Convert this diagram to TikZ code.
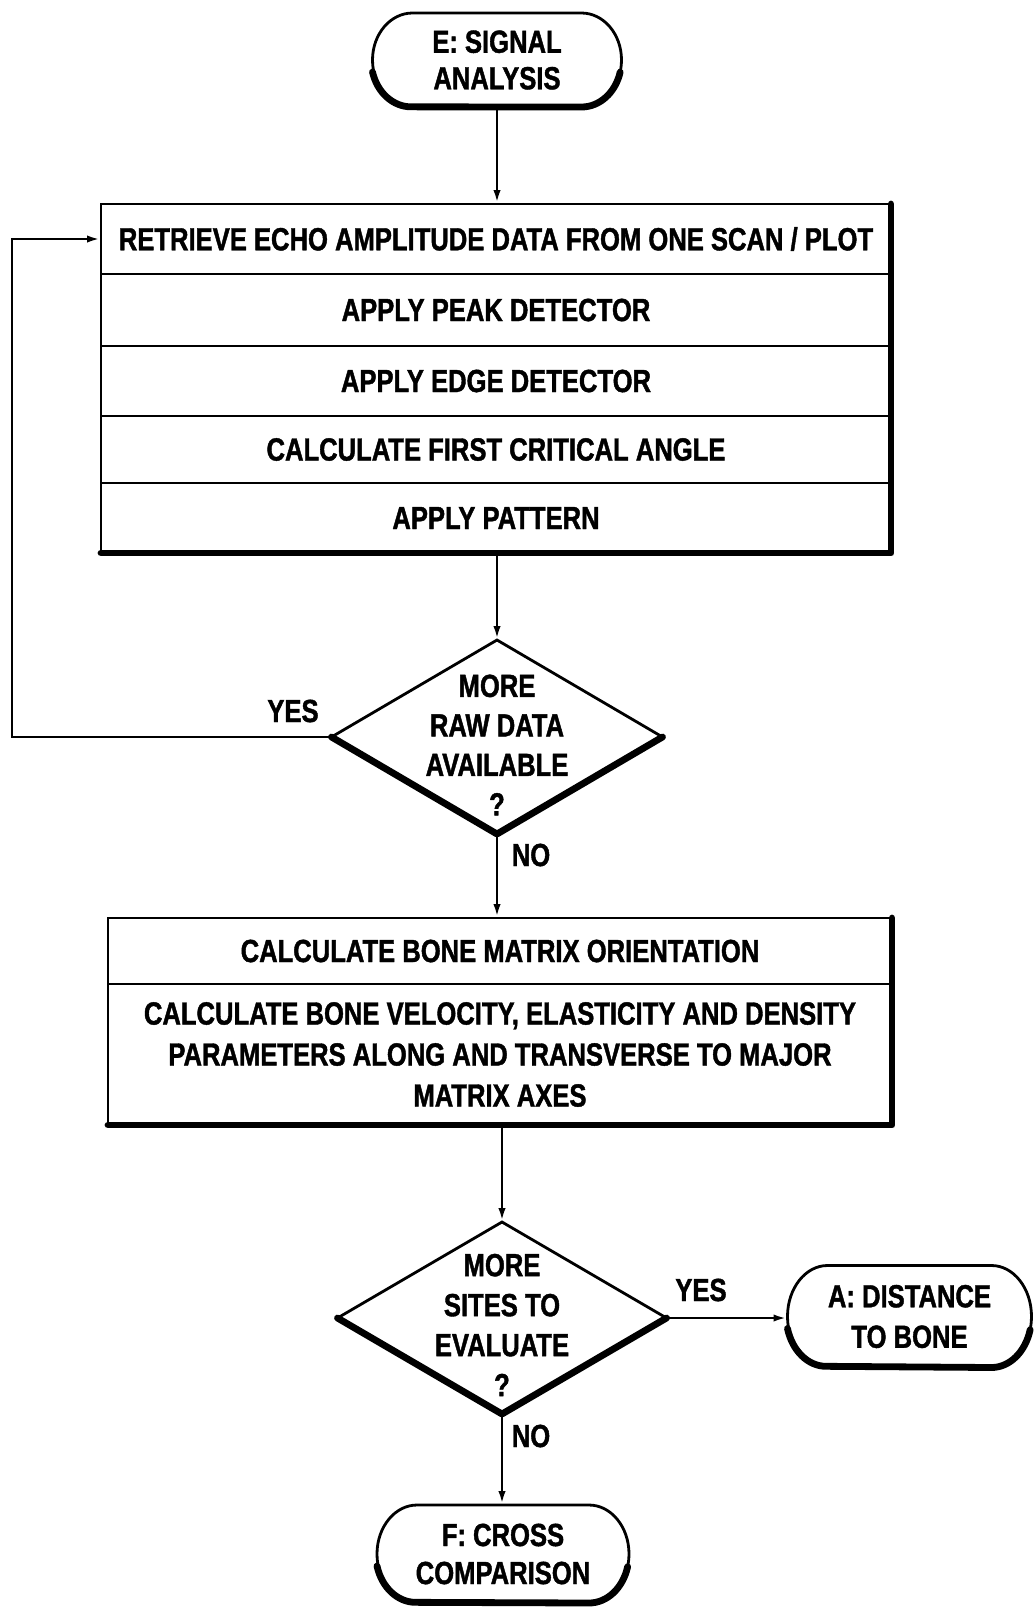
\documentclass[tikz,border=0pt]{standalone}
\usepackage{fontspec}
\setmainfont{Liberation Sans}[FakeStretch=0.80, BoldFeatures={FakeBold=1.3}]
\usetikzlibrary{shapes.geometric,arrows.meta}
\newcommand{\fs}[1]{\bfseries\fontsize{16}{#1}\selectfont}
% outline of a terminal: #1 node name, #2 half height
\newcommand{\termoutline}[2]{%
  \draw[ln] ([xshift=20pt]#1.north west) -- ([xshift=-20pt]#1.north east)
    arc[start angle=90, end angle=-90, x radius=20pt, y radius=#2]
    -- ([xshift=20pt]#1.south west)
    arc[start angle=270, end angle=90, x radius=20pt, y radius=#2] -- cycle;
  \draw[heavy] ([yshift=-6pt]#1.west)
    arc[start angle=195, end angle=270, x radius=20pt, y radius=#2]
    -- ([xshift=-20pt]#1.south east)
    arc[start angle=270, end angle=345, x radius=20pt, y radius=#2];}
\begin{document}
\begin{tikzpicture}[x=0.5pt,y=-0.5pt,
  every node/.style={font=\fs{19.5}, align=center, inner sep=0pt, outer sep=0pt},
  ln/.style={line width=1.4pt},
  heavy/.style={line width=3.4pt, line cap=round, line join=round},
  arr/.style={ln, -{Latex[length=7pt,width=3.6pt]}},
  rowbox/.style={draw, ln},
  term/.style={rectangle},
  dec/.style={draw, ln, diamond}
]
\fill[white] (0,0) rectangle (1034,1608);
\useasboundingbox (0,0) rectangle (1034,1608);

% start terminal
\node[term, minimum width=124.5pt, minimum height=47pt, font=\fs{18.25}] (E) at (497,60) {E: SIGNAL\\ANALYSIS};
\termoutline{E}{23.5pt}

% first process block
\node[rowbox, minimum width=395pt, minimum height=35pt] (r1) at (496,239) {RETRIEVE ECHO AMPLITUDE DATA FROM ONE SCAN / PLOT};
\node[rowbox, minimum width=395pt, minimum height=36pt] (r2) at (496,310) {APPLY PEAK DETECTOR};
\node[rowbox, minimum width=395pt, minimum height=35pt] (r3) at (496,381) {APPLY EDGE DETECTOR};
\node[rowbox, minimum width=395pt, minimum height=33.5pt] (r4) at (496,449.5) {CALCULATE FIRST CRITICAL ANGLE};
\node[rowbox, minimum width=395pt, minimum height=35pt] (r5) at (496,518) {APPLY PATTERN};
\draw[heavy] (r1.north east) -- (r5.south east) -- (r5.south west);

% first decision
\node[dec, minimum width=165.5pt, minimum height=97pt] (d1) at (497,737) {};
\node[font=\fs{19.75}] (d1t) at (497,745) {MORE\\RAW DATA\\AVAILABLE\\?};
\draw[heavy] (d1.west) -- (d1.south) -- (d1.east);

% second process block
\node[rowbox, minimum width=392pt, minimum height=33pt] (b1) at (500,951) {CALCULATE BONE MATRIX ORIENTATION};
\node[rowbox, minimum width=392pt, minimum height=70.5pt, font=\fs{20.5}] (b2) at (500,1054.5) {CALCULATE BONE VELOCITY, ELASTICITY AND DENSITY\\PARAMETERS ALONG AND TRANSVERSE TO MAJOR\\MATRIX AXES};
\draw[heavy] (b1.north east) -- (b2.south east) -- (b2.south west);

% second decision
\node[dec, minimum width=164.5pt, minimum height=96pt] (d2) at (502,1318) {};
\node[font=\fs{20}] (d2t) at (502,1325) {MORE\\SITES TO\\EVALUATE\\?};
\draw[heavy] (d2.west) -- (d2.south) -- (d2.east);

% end terminals
\node[term, minimum width=122pt, minimum height=51pt, font=\fs{20.25}] (A) at (909.5,1316.5) {A: DISTANCE\\TO BONE};
\termoutline{A}{25.5pt}
\node[term, minimum width=126pt, minimum height=49pt, font=\fs{19}] (F) at (503,1554) {F: CROSS\\COMPARISON};
\termoutline{F}{24.5pt}

% labels
\node (y1) at (293,711) {YES};
\node (n1) at (531,855) {NO};
\node (y2) at (701,1290) {YES};
\node (n2) at (531,1436) {NO};

% connectors
\coordinate (lp) at (12,500);
\draw[arr] (E.south) -- (E.south |- r1.north);
\draw[arr] (d1.north |- r5.south) -- (d1.north);
\draw[arr] (d1.south) -- (d1.south |- b1.north);
\draw[arr] (d2.north |- b2.south) -- (d2.north);
\draw[arr] (d2.east) -- (d2.east -| A.west);
\draw[arr] (d2.south) -- (d2.south |- F.north);
\draw[arr] (d1.west) -| (lp) |- (r1.west);
\end{tikzpicture}
\end{document}
